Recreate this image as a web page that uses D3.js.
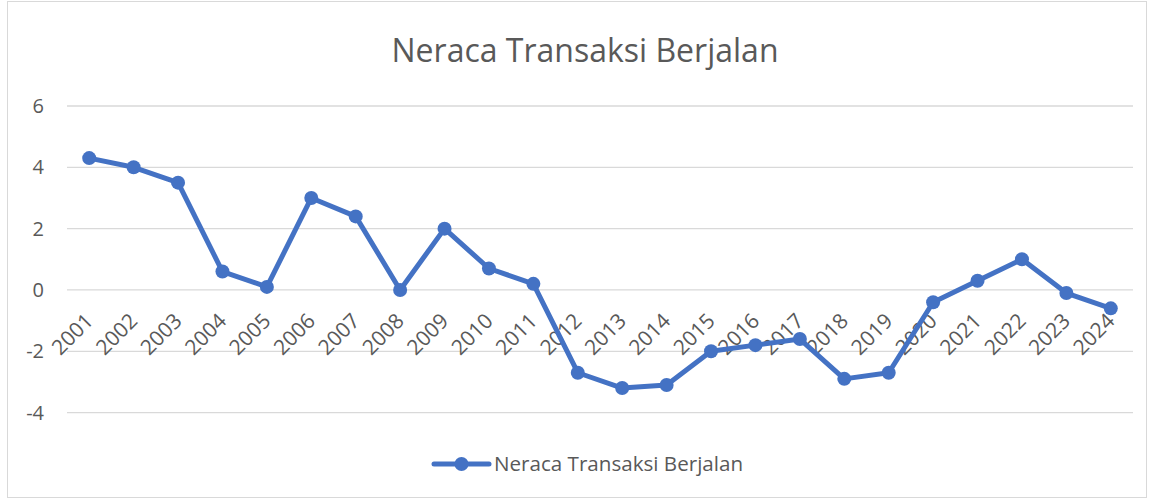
<!DOCTYPE html>
<html>
<head>
<meta charset="utf-8">
<script src="https://cdn.jsdelivr.net/npm/d3@7"></script>
<style>
  body { margin: 0; background: #fff; }
  text { font-family: "Open Sans", sans-serif; fill: #595959; }
</style>
</head>
<body>
<script>
// chart data
var years = ["2001","2002","2003","2004","2005","2006","2007","2008","2009","2010","2011","2012",
             "2013","2014","2015","2016","2017","2018","2019","2020","2021","2022","2023","2024"];
var values = [4.3, 4.0, 3.5, 0.6, 0.1, 3.0, 2.4, 0.0, 2.0, 0.7, 0.2, -2.7,
              -3.2, -3.1, -2.0, -1.8, -1.6, -2.9, -2.7, -0.4, 0.3, 1.0, -0.1, -0.6];
var yTicks = [-4, -2, 0, 2, 4, 6];
var seriesName = "Neraca Transaksi Berjalan";

var W = 1150, H = 500;
var plot = {left: 67, right: 1133, top: 106, bottom: 412.6};
var blue = "#4472C4";

var svg = d3.select("body").append("svg")
    .attr("width", W)
    .attr("height", H);

// chart border
svg.append("rect")
    .attr("x", 7.5).attr("y", 1.5)
    .attr("width", 1139).attr("height", 496)
    .attr("fill", "none")
    .attr("stroke", "#d9d9d9");

// scales
var x = d3.scaleBand().domain(years).range([plot.left, plot.right]);
var y = d3.scaleLinear().domain([-4, 6]).range([plot.bottom, plot.top]);
var cx = function(d, i) { return x(years[i]) + x.bandwidth() / 2; };

// title
svg.append("text")
    .attr("x", 585).attr("y", 62)
    .attr("text-anchor", "middle")
    .style("font-size", "32px")
    .text(seriesName);

// gridlines
svg.append("g").selectAll("line")
    .data(yTicks)
  .enter().append("line")
    .attr("x1", plot.left).attr("x2", plot.right)
    .attr("y1", function(d) { return y(d); })
    .attr("y2", function(d) { return y(d); })
    .attr("stroke", "#d9d9d9")
    .attr("stroke-width", 1.3);

// y axis labels (plain hyphen for negatives, like Excel)
var yAxis = svg.append("g")
    .attr("transform", "translate(" + (plot.left - 23) + ",0)")
    .call(d3.axisLeft(y).tickValues(yTicks).tickSize(0).tickPadding(0)
      .tickFormat(function(d) { return String(d); }));
yAxis.select(".domain").remove();
yAxis.selectAll("text")
    .style("font-size", "20px")
    .style("font-family", "'Open Sans', sans-serif")
    .attr("fill", "#595959");

// x labels, rotated, hanging below the zero line
svg.append("g").selectAll("text")
    .data(years)
  .enter().append("text")
    .attr("text-anchor", "end")
    .attr("dy", "0.35em")
    .attr("transform", function(d) {
      return "translate(" + (x(d) + x.bandwidth() / 2) + "," + (y(0) + 27) + ") rotate(-45)";
    })
    .style("font-size", "21px")
    .text(function(d) { return d; });

// line
var line = d3.line()
    .x(cx)
    .y(function(d) { return y(d); });

svg.append("path")
    .datum(values)
    .attr("fill", "none")
    .attr("stroke", blue)
    .attr("stroke-width", 5)
    .attr("stroke-linejoin", "round")
    .attr("d", line);

svg.append("g").selectAll("circle")
    .data(values)
  .enter().append("circle")
    .attr("cx", cx)
    .attr("cy", function(d) { return y(d); })
    .attr("r", 7)
    .attr("fill", blue);

// legend
var lg = svg.append("g").attr("transform", "translate(434,464)");
lg.append("line")
    .attr("x1", 0).attr("x2", 55)
    .attr("stroke", blue)
    .attr("stroke-width", 5)
    .attr("stroke-linecap", "round");
lg.append("circle")
    .attr("cx", 27.5)
    .attr("r", 7)
    .attr("fill", blue);
lg.append("text")
    .attr("x", 60)
    .attr("dy", "0.35em")
    .style("font-size", "20.6px")
    .text(seriesName);
</script>
</body>
</html>
